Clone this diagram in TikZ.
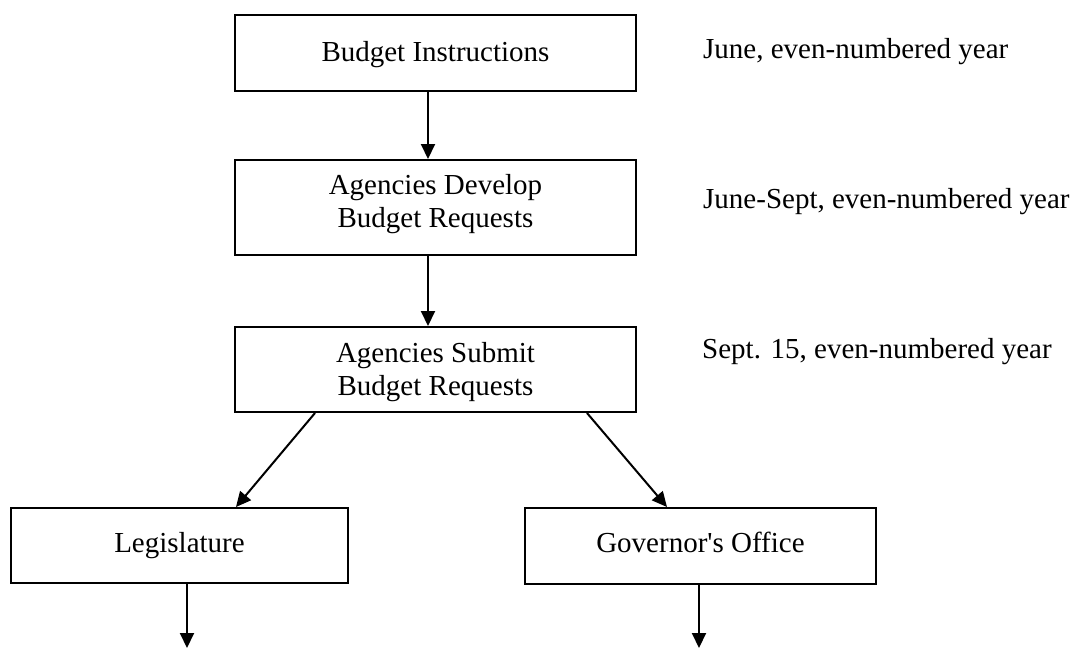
\documentclass[tikz,border=0pt]{standalone}
\usepackage{fontspec}
\setmainfont{Liberation Serif}[Ligatures=TeXOff]
\usetikzlibrary{arrows.meta}
\tikzset{
  boxnode/.style={draw, line width=2pt, inner sep=0pt, align=center, anchor=north,
    font=\fontsize{29}{33}\selectfont},
  arr/.style={line width=2pt, -{Triangle[length=15pt,width=14pt]}},
  datelabel/.style={anchor=base west, inner sep=0pt, font=\fontsize{29}{33}\selectfont}
}
\begin{document}
\begin{tikzpicture}[x=1pt,y=-1pt]
\useasboundingbox (0,0) rectangle (1085,649);
\node[boxnode, minimum width=401pt, text height=46.7pt, text depth=29.3pt] (b1) at (435.5,14) {Budget Instructions};
\node[boxnode, minimum width=401pt, text height=67.7pt, text depth=27.3pt] (b2) at (435.5,159) {Agencies Develop\\Budget Requests};
\node[boxnode, minimum width=401pt, text height=68.7pt, text depth=16.3pt] (b3) at (435.5,326) {Agencies Submit\\Budget Requests};
\node[boxnode, minimum width=337pt, text height=44.7pt, text depth=30.3pt] (leg) at (179.5,507) {Legislature};
\node[boxnode, minimum width=351pt, text height=44.7pt, text depth=31.3pt] (gov) at (700.5,507) {Governor's Office};
\node[datelabel] (l1) at (703,58) {June, even-numbered year};
\node[datelabel] (l2) at (703,208) {June-Sept, even-numbered year};
\node[datelabel] (l3) at (702,358) {Sept. 15, even-numbered year};
\coordinate (legout) at (187,648);
\coordinate (govout) at (699,648);
\draw[arr] ([xshift=-7.5pt]b1.south) -- ([xshift=-7.5pt]b2.north);
\draw[arr] ([xshift=-7.5pt]b2.south) -- ([xshift=-7.5pt]b3.north);
\draw[arr] ([xshift=-120.5pt]b3.south) -- ([xshift=56.5pt]leg.north);
\draw[arr] ([xshift=151.5pt]b3.south) -- ([xshift=-33.5pt]gov.north);
\draw[arr] (leg.south -| legout) -- (legout);
\draw[arr] (gov.south -| govout) -- (govout);
\end{tikzpicture}
\end{document}
